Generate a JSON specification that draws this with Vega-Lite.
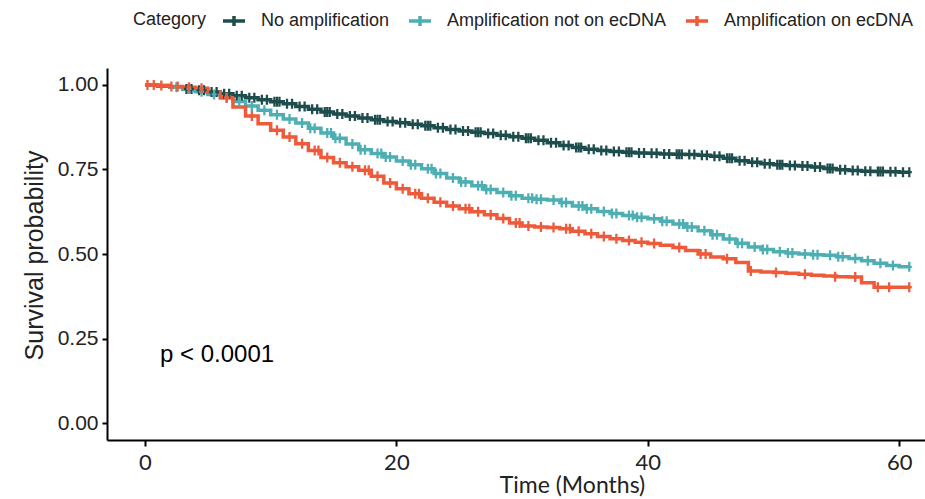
{
  "$schema": "https://vega.github.io/schema/vega-lite/v6.json",
  "width": 818,
  "height": 372,
  "autosize": {"type": "none"},
  "padding": {"left": 107, "top": 68, "right": 0, "bottom": 59},
  "background": "white",
  "config": {"view": {"stroke": null}, "font": "Liberation Sans"},
  "datasets": {
    "curve": [
      {"c":"N","t":0,"s":1.000},{"c":"N","t":1,"s":0.997},{"c":"N","t":2,"s":0.993},{"c":"N","t":3,"s":0.988},{"c":"N","t":4,"s":0.984},{"c":"N","t":5,"s":0.979},{"c":"N","t":6,"s":0.974},{"c":"N","t":7,"s":0.968},{"c":"N","t":8,"s":0.962},{"c":"N","t":9,"s":0.956},{"c":"N","t":10,"s":0.950},{"c":"N","t":11,"s":0.944},{"c":"N","t":12,"s":0.936},{"c":"N","t":13,"s":0.928},{"c":"N","t":14,"s":0.920},{"c":"N","t":15,"s":0.914},{"c":"N","t":16,"s":0.908},{"c":"N","t":17,"s":0.902},{"c":"N","t":18,"s":0.897},{"c":"N","t":19,"s":0.892},{"c":"N","t":20,"s":0.888},{"c":"N","t":21,"s":0.884},{"c":"N","t":22,"s":0.879},{"c":"N","t":23,"s":0.873},{"c":"N","t":24,"s":0.868},{"c":"N","t":25,"s":0.864},{"c":"N","t":26,"s":0.860},{"c":"N","t":27,"s":0.856},{"c":"N","t":28,"s":0.851},{"c":"N","t":29,"s":0.847},{"c":"N","t":30,"s":0.842},{"c":"N","t":31,"s":0.836},{"c":"N","t":32,"s":0.829},{"c":"N","t":33,"s":0.821},{"c":"N","t":34,"s":0.815},{"c":"N","t":35,"s":0.810},{"c":"N","t":36,"s":0.806},{"c":"N","t":37,"s":0.803},{"c":"N","t":38,"s":0.801},{"c":"N","t":39,"s":0.799},{"c":"N","t":40,"s":0.798},{"c":"N","t":41,"s":0.796},{"c":"N","t":42,"s":0.795},{"c":"N","t":43,"s":0.794},{"c":"N","t":44,"s":0.792},{"c":"N","t":45,"s":0.789},{"c":"N","t":46,"s":0.783},{"c":"N","t":47,"s":0.776},{"c":"N","t":48,"s":0.771},{"c":"N","t":49,"s":0.767},{"c":"N","t":50,"s":0.764},{"c":"N","t":51,"s":0.762},{"c":"N","t":52,"s":0.760},{"c":"N","t":53,"s":0.757},{"c":"N","t":54,"s":0.753},{"c":"N","t":55,"s":0.749},{"c":"N","t":56,"s":0.747},{"c":"N","t":57,"s":0.745},{"c":"N","t":58,"s":0.744},{"c":"N","t":59,"s":0.743},{"c":"N","t":60,"s":0.742},{"c":"N","t":60.8,"s":0.742},
      {"c":"A","t":0,"s":1.000},{"c":"A","t":1,"s":0.998},{"c":"A","t":2,"s":0.993},{"c":"A","t":3,"s":0.988},{"c":"A","t":4,"s":0.980},{"c":"A","t":5,"s":0.972},{"c":"A","t":6,"s":0.962},{"c":"A","t":7,"s":0.951},{"c":"A","t":8,"s":0.938},{"c":"A","t":9,"s":0.925},{"c":"A","t":10,"s":0.912},{"c":"A","t":11,"s":0.899},{"c":"A","t":12,"s":0.887},{"c":"A","t":13,"s":0.872},{"c":"A","t":14,"s":0.858},{"c":"A","t":15,"s":0.842},{"c":"A","t":16,"s":0.825},{"c":"A","t":17,"s":0.808},{"c":"A","t":18,"s":0.797},{"c":"A","t":19,"s":0.787},{"c":"A","t":20,"s":0.775},{"c":"A","t":21,"s":0.764},{"c":"A","t":22,"s":0.752},{"c":"A","t":23,"s":0.738},{"c":"A","t":24,"s":0.725},{"c":"A","t":25,"s":0.713},{"c":"A","t":26,"s":0.702},{"c":"A","t":27,"s":0.691},{"c":"A","t":28,"s":0.682},{"c":"A","t":29,"s":0.672},{"c":"A","t":30,"s":0.665},{"c":"A","t":31,"s":0.662},{"c":"A","t":32,"s":0.660},{"c":"A","t":33,"s":0.652},{"c":"A","t":34,"s":0.642},{"c":"A","t":35,"s":0.634},{"c":"A","t":36,"s":0.626},{"c":"A","t":37,"s":0.620},{"c":"A","t":38,"s":0.614},{"c":"A","t":39,"s":0.609},{"c":"A","t":40,"s":0.604},{"c":"A","t":41,"s":0.597},{"c":"A","t":42,"s":0.589},{"c":"A","t":43,"s":0.580},{"c":"A","t":44,"s":0.569},{"c":"A","t":45,"s":0.557},{"c":"A","t":46,"s":0.544},{"c":"A","t":47,"s":0.532},{"c":"A","t":48,"s":0.521},{"c":"A","t":49,"s":0.513},{"c":"A","t":50,"s":0.507},{"c":"A","t":51,"s":0.503},{"c":"A","t":52,"s":0.500},{"c":"A","t":53,"s":0.498},{"c":"A","t":54,"s":0.496},{"c":"A","t":55,"s":0.492},{"c":"A","t":56,"s":0.487},{"c":"A","t":57,"s":0.480},{"c":"A","t":58,"s":0.473},{"c":"A","t":59,"s":0.466},{"c":"A","t":60,"s":0.462},{"c":"A","t":60.8,"s":0.462},
      {"c":"E","t":0,"s":1.000},{"c":"E","t":1,"s":0.998},{"c":"E","t":2,"s":0.995},{"c":"E","t":3,"s":0.993},{"c":"E","t":4,"s":0.990},{"c":"E","t":5,"s":0.978},{"c":"E","t":6,"s":0.962},{"c":"E","t":7,"s":0.935},{"c":"E","t":8,"s":0.908},{"c":"E","t":9,"s":0.885},{"c":"E","t":10,"s":0.866},{"c":"E","t":11,"s":0.846},{"c":"E","t":12,"s":0.826},{"c":"E","t":13,"s":0.806},{"c":"E","t":14,"s":0.785},{"c":"E","t":15,"s":0.770},{"c":"E","t":16,"s":0.758},{"c":"E","t":17,"s":0.748},{"c":"E","t":18,"s":0.730},{"c":"E","t":19,"s":0.710},{"c":"E","t":20,"s":0.693},{"c":"E","t":21,"s":0.678},{"c":"E","t":22,"s":0.665},{"c":"E","t":23,"s":0.653},{"c":"E","t":24,"s":0.642},{"c":"E","t":25,"s":0.634},{"c":"E","t":26,"s":0.625},{"c":"E","t":27,"s":0.616},{"c":"E","t":28,"s":0.605},{"c":"E","t":29,"s":0.592},{"c":"E","t":30,"s":0.583},{"c":"E","t":31,"s":0.580},{"c":"E","t":32,"s":0.578},{"c":"E","t":33,"s":0.575},{"c":"E","t":34,"s":0.567},{"c":"E","t":35,"s":0.560},{"c":"E","t":36,"s":0.552},{"c":"E","t":37,"s":0.545},{"c":"E","t":38,"s":0.540},{"c":"E","t":39,"s":0.535},{"c":"E","t":40,"s":0.531},{"c":"E","t":41,"s":0.526},{"c":"E","t":42,"s":0.519},{"c":"E","t":43,"s":0.510},{"c":"E","t":44,"s":0.500},{"c":"E","t":45,"s":0.491},{"c":"E","t":46,"s":0.486},{"c":"E","t":47,"s":0.475},{"c":"E","t":48,"s":0.450},{"c":"E","t":49,"s":0.447},{"c":"E","t":50,"s":0.445},{"c":"E","t":51,"s":0.443},{"c":"E","t":52,"s":0.440},{"c":"E","t":53,"s":0.437},{"c":"E","t":54,"s":0.435},{"c":"E","t":55,"s":0.433},{"c":"E","t":56,"s":0.432},{"c":"E","t":57,"s":0.415},{"c":"E","t":58,"s":0.402},{"c":"E","t":59,"s":0.402},{"c":"E","t":60,"s":0.402},{"c":"E","t":60.8,"s":0.402}
    ],
    "censor": [
      {"c":"N","t":3.3,"s":0.988},{"c":"N","t":3.7,"s":0.988},{"c":"N","t":4.3,"s":0.984},{"c":"N","t":4.7,"s":0.984},{"c":"N","t":5.3,"s":0.979},{"c":"N","t":5.7,"s":0.979},{"c":"N","t":6.3,"s":0.974},{"c":"N","t":6.7,"s":0.974},{"c":"N","t":7.3,"s":0.968},{"c":"N","t":7.7,"s":0.968},{"c":"N","t":8.3,"s":0.962},{"c":"N","t":8.7,"s":0.962},{"c":"N","t":9.3,"s":0.956},{"c":"N","t":9.7,"s":0.956},{"c":"N","t":10.3,"s":0.950},{"c":"N","t":10.7,"s":0.950},{"c":"N","t":11.3,"s":0.944},{"c":"N","t":11.7,"s":0.944},{"c":"N","t":12.3,"s":0.936},{"c":"N","t":12.7,"s":0.936},{"c":"N","t":13.3,"s":0.928},{"c":"N","t":13.7,"s":0.928},{"c":"N","t":14.3,"s":0.920},{"c":"N","t":14.7,"s":0.920},{"c":"N","t":15.3,"s":0.914},{"c":"N","t":15.7,"s":0.914},{"c":"N","t":16.3,"s":0.908},{"c":"N","t":16.7,"s":0.908},{"c":"N","t":17.3,"s":0.902},{"c":"N","t":17.7,"s":0.902},{"c":"N","t":18.3,"s":0.897},{"c":"N","t":18.7,"s":0.897},{"c":"N","t":19.3,"s":0.892},{"c":"N","t":19.7,"s":0.892},{"c":"N","t":20.3,"s":0.888},{"c":"N","t":20.7,"s":0.888},{"c":"N","t":21.3,"s":0.884},{"c":"N","t":21.7,"s":0.884},{"c":"N","t":22.3,"s":0.879},{"c":"N","t":22.7,"s":0.879},{"c":"N","t":23.3,"s":0.873},{"c":"N","t":23.7,"s":0.873},{"c":"N","t":24.3,"s":0.868},{"c":"N","t":24.7,"s":0.868},{"c":"N","t":25.3,"s":0.864},{"c":"N","t":25.7,"s":0.864},{"c":"N","t":26.3,"s":0.860},{"c":"N","t":26.7,"s":0.860},{"c":"N","t":27.3,"s":0.856},{"c":"N","t":27.7,"s":0.856},{"c":"N","t":28.3,"s":0.851},{"c":"N","t":28.7,"s":0.851},{"c":"N","t":29.3,"s":0.847},{"c":"N","t":29.7,"s":0.847},{"c":"N","t":30.3,"s":0.842},{"c":"N","t":30.7,"s":0.842},{"c":"N","t":31.3,"s":0.836},{"c":"N","t":31.7,"s":0.836},{"c":"N","t":32.3,"s":0.829},{"c":"N","t":32.7,"s":0.829},{"c":"N","t":33.3,"s":0.821},{"c":"N","t":33.7,"s":0.821},{"c":"N","t":34.3,"s":0.815},{"c":"N","t":34.7,"s":0.815},{"c":"N","t":35.3,"s":0.810},{"c":"N","t":35.7,"s":0.810},{"c":"N","t":36.3,"s":0.806},{"c":"N","t":36.7,"s":0.806},{"c":"N","t":37.3,"s":0.803},{"c":"N","t":37.7,"s":0.803},{"c":"N","t":38.3,"s":0.801},{"c":"N","t":38.7,"s":0.801},{"c":"N","t":39.3,"s":0.799},{"c":"N","t":39.7,"s":0.799},{"c":"N","t":40.3,"s":0.798},{"c":"N","t":40.7,"s":0.798},{"c":"N","t":41.3,"s":0.796},{"c":"N","t":41.7,"s":0.796},{"c":"N","t":42.3,"s":0.795},{"c":"N","t":42.7,"s":0.795},{"c":"N","t":43.3,"s":0.794},{"c":"N","t":43.7,"s":0.794},{"c":"N","t":44.3,"s":0.792},{"c":"N","t":44.7,"s":0.792},{"c":"N","t":45.3,"s":0.789},{"c":"N","t":45.7,"s":0.789},{"c":"N","t":46.3,"s":0.783},{"c":"N","t":46.7,"s":0.783},{"c":"N","t":47.3,"s":0.776},{"c":"N","t":47.7,"s":0.776},{"c":"N","t":48.3,"s":0.771},{"c":"N","t":48.7,"s":0.771},{"c":"N","t":49.3,"s":0.767},{"c":"N","t":49.7,"s":0.767},{"c":"N","t":50.3,"s":0.764},{"c":"N","t":50.7,"s":0.764},{"c":"N","t":51.3,"s":0.762},{"c":"N","t":51.7,"s":0.762},{"c":"N","t":52.3,"s":0.760},{"c":"N","t":52.7,"s":0.760},{"c":"N","t":53.3,"s":0.757},{"c":"N","t":53.7,"s":0.757},{"c":"N","t":54.3,"s":0.753},{"c":"N","t":54.7,"s":0.753},{"c":"N","t":55.3,"s":0.749},{"c":"N","t":55.7,"s":0.749},{"c":"N","t":56.3,"s":0.747},{"c":"N","t":56.7,"s":0.747},{"c":"N","t":57.3,"s":0.745},{"c":"N","t":57.7,"s":0.745},{"c":"N","t":58.3,"s":0.744},{"c":"N","t":58.7,"s":0.744},{"c":"N","t":59.3,"s":0.743},{"c":"N","t":59.7,"s":0.743},{"c":"N","t":60.3,"s":0.742},{"c":"N","t":60.8,"s":0.742},
      {"c":"N","t":10.5,"s":0.950},{"c":"N","t":14.5,"s":0.920},{"c":"N","t":18.5,"s":0.897},{"c":"N","t":22.5,"s":0.879},{"c":"N","t":26.5,"s":0.860},{"c":"N","t":30.5,"s":0.842},{"c":"N","t":34.5,"s":0.815},{"c":"N","t":38.5,"s":0.801},{"c":"N","t":42.5,"s":0.795},{"c":"N","t":46.5,"s":0.783},{"c":"N","t":50.5,"s":0.764},{"c":"N","t":54.5,"s":0.753},{"c":"N","t":58.5,"s":0.744},
      {"c":"A","t":2.5,"s":0.993},{"c":"A","t":3.5,"s":0.988},{"c":"A","t":4.5,"s":0.980},{"c":"A","t":5.5,"s":0.972},{"c":"A","t":6.5,"s":0.962},{"c":"A","t":7.5,"s":0.951},{"c":"A","t":8.5,"s":0.938},{"c":"A","t":9.5,"s":0.925},{"c":"A","t":10.5,"s":0.912},{"c":"A","t":11.5,"s":0.899},{"c":"A","t":12.5,"s":0.887},{"c":"A","t":13.5,"s":0.872},{"c":"A","t":14.5,"s":0.858},{"c":"A","t":15.5,"s":0.842},{"c":"A","t":16.5,"s":0.825},{"c":"A","t":17.5,"s":0.808},{"c":"A","t":18.5,"s":0.797},{"c":"A","t":19.5,"s":0.787},{"c":"A","t":20.5,"s":0.775},{"c":"A","t":21.5,"s":0.764},{"c":"A","t":22.5,"s":0.752},{"c":"A","t":23.5,"s":0.738},{"c":"A","t":24.5,"s":0.725},{"c":"A","t":25.5,"s":0.713},{"c":"A","t":26.5,"s":0.702},{"c":"A","t":27.5,"s":0.691},{"c":"A","t":28.5,"s":0.682},{"c":"A","t":29.5,"s":0.672},{"c":"A","t":30.5,"s":0.665},{"c":"A","t":31.5,"s":0.662},{"c":"A","t":32.5,"s":0.660},{"c":"A","t":33.5,"s":0.652},{"c":"A","t":34.5,"s":0.642},{"c":"A","t":35.5,"s":0.634},{"c":"A","t":36.5,"s":0.626},{"c":"A","t":37.5,"s":0.620},{"c":"A","t":38.5,"s":0.614},{"c":"A","t":39.5,"s":0.609},{"c":"A","t":40.5,"s":0.604},{"c":"A","t":41.5,"s":0.597},{"c":"A","t":42.5,"s":0.589},{"c":"A","t":43.5,"s":0.580},{"c":"A","t":44.5,"s":0.569},{"c":"A","t":45.5,"s":0.557},{"c":"A","t":46.5,"s":0.544},{"c":"A","t":47.5,"s":0.532},{"c":"A","t":48.5,"s":0.521},{"c":"A","t":49.5,"s":0.513},{"c":"A","t":50.5,"s":0.507},{"c":"A","t":51.5,"s":0.503},{"c":"A","t":52.5,"s":0.500},{"c":"A","t":53.5,"s":0.498},{"c":"A","t":54.5,"s":0.496},{"c":"A","t":55.5,"s":0.492},{"c":"A","t":56.5,"s":0.487},{"c":"A","t":57.5,"s":0.480},{"c":"A","t":58.5,"s":0.473},{"c":"A","t":59.5,"s":0.466},{"c":"A","t":60.8,"s":0.462},
      {"c":"A","t":13.15,"s":0.872},{"c":"A","t":15.15,"s":0.842},{"c":"A","t":17.15,"s":0.808},{"c":"A","t":19.15,"s":0.787},{"c":"A","t":21.15,"s":0.764},{"c":"A","t":23.15,"s":0.738},{"c":"A","t":25.15,"s":0.713},{"c":"A","t":27.15,"s":0.691},{"c":"A","t":29.15,"s":0.672},{"c":"A","t":31.15,"s":0.662},{"c":"A","t":33.15,"s":0.652},{"c":"A","t":35.15,"s":0.634},{"c":"A","t":37.15,"s":0.620},{"c":"A","t":39.15,"s":0.609},{"c":"A","t":41.15,"s":0.597},{"c":"A","t":43.15,"s":0.580},{"c":"A","t":45.15,"s":0.557},{"c":"A","t":47.15,"s":0.532},{"c":"A","t":49.15,"s":0.513},{"c":"A","t":51.15,"s":0.503},{"c":"A","t":53.15,"s":0.498},{"c":"A","t":55.15,"s":0.492},
      {"c":"A","t":14.8,"s":0.858},{"c":"A","t":18.8,"s":0.797},{"c":"A","t":22.8,"s":0.752},{"c":"A","t":26.8,"s":0.702},{"c":"A","t":30.8,"s":0.665},{"c":"A","t":34.8,"s":0.642},{"c":"A","t":38.8,"s":0.614},{"c":"A","t":42.8,"s":0.589},
      {"c":"E","t":0.2,"s":1.000},{"c":"E","t":0.7,"s":1.000},{"c":"E","t":1.3,"s":0.998},{"c":"E","t":2.1,"s":0.995},{"c":"E","t":2.6,"s":0.995},{"c":"E","t":3.5,"s":0.993},{"c":"E","t":4.5,"s":0.990},{"c":"E","t":6.5,"s":0.962},{"c":"E","t":8.5,"s":0.908},{"c":"E","t":10.5,"s":0.866},{"c":"E","t":11.5,"s":0.846},{"c":"E","t":12.5,"s":0.826},{"c":"E","t":13.5,"s":0.806},{"c":"E","t":14.5,"s":0.785},{"c":"E","t":15.5,"s":0.770},{"c":"E","t":16.5,"s":0.758},{"c":"E","t":17.5,"s":0.748},{"c":"E","t":18.5,"s":0.730},{"c":"E","t":19.5,"s":0.710},{"c":"E","t":20.5,"s":0.693},{"c":"E","t":21.5,"s":0.678},{"c":"E","t":22.5,"s":0.665},{"c":"E","t":23.5,"s":0.653},{"c":"E","t":24.5,"s":0.642},{"c":"E","t":25.5,"s":0.634},{"c":"E","t":26.5,"s":0.625},{"c":"E","t":27.5,"s":0.616},{"c":"E","t":28.5,"s":0.605},{"c":"E","t":29.5,"s":0.592},{"c":"E","t":30.5,"s":0.583},{"c":"E","t":31.5,"s":0.580},{"c":"E","t":32.5,"s":0.578},{"c":"E","t":33.5,"s":0.575},{"c":"E","t":34.5,"s":0.567},{"c":"E","t":35.5,"s":0.560},{"c":"E","t":36.5,"s":0.552},{"c":"E","t":37.5,"s":0.545},{"c":"E","t":38.5,"s":0.540},{"c":"E","t":39.5,"s":0.535},{"c":"E","t":40.5,"s":0.531},{"c":"E","t":42.5,"s":0.519},{"c":"E","t":44.2,"s":0.500},{"c":"E","t":44.6,"s":0.500},{"c":"E","t":46.3,"s":0.486},{"c":"E","t":48.2,"s":0.450},{"c":"E","t":50.2,"s":0.445},{"c":"E","t":52.5,"s":0.440},{"c":"E","t":54.9,"s":0.433},{"c":"E","t":56.5,"s":0.432},{"c":"E","t":58.3,"s":0.402},{"c":"E","t":59.2,"s":0.402},{"c":"E","t":60.8,"s":0.402},
      {"c":"E","t":13.8,"s":0.806},{"c":"E","t":17.8,"s":0.748},{"c":"E","t":21.8,"s":0.678},{"c":"E","t":25.8,"s":0.634},{"c":"E","t":29.8,"s":0.592},{"c":"E","t":33.8,"s":0.575}
    ]
  },
  "encoding": {
    "x": {
      "field": "t", "type": "quantitative",
      "scale": {"domain": [-3.02, 62.05], "nice": false, "zero": false},
      "axis": {
        "values": [0, 20, 40, 60], "grid": false,
        "domainColor": "black", "domainWidth": 2,
        "tickColor": "black", "tickWidth": 2, "tickSize": 6,
        "labelFont": "Lato", "labelFontSize": 22, "labelColor": "#222222", "labelPadding": 6,
        "title": "Time (Months)", "titleFont": "Lato", "titleFontSize": 23, "titleFontWeight": "normal", "titleColor": "#222222",
        "titleX": 465, "titleY": 52, "titleBaseline": "alphabetic", "titleAlign": "center"
      }
    },
    "y": {
      "field": "s", "type": "quantitative",
      "scale": {"domain": [-0.05, 1.05], "nice": false, "zero": false},
      "axis": {
        "values": [0, 0.25, 0.5, 0.75, 1], "format": ".2f", "grid": false,
        "domainColor": "black", "domainWidth": 2,
        "tickColor": "black", "tickWidth": 2, "tickSize": 5,
        "labelFont": "Liberation Sans", "labelFontSize": 21, "labelColor": "#222222", "labelPadding": 4,
        "title": "Survival probability", "titleFont": "Liberation Sans", "titleFontSize": 25, "titleFontWeight": "normal", "titleColor": "#222222",
        "titleX": -65, "titleY": 187, "titleAngle": -90, "titleBaseline": "alphabetic", "titleAlign": "center"
      }
    },
    "color": {
      "field": "c", "type": "nominal",
      "scale": {"domain": ["N", "A", "E"], "range": ["#1E4D4D", "#4DAFB3", "#EE5A3A"]},
      "legend": {
        "orient": "none", "legendX": 26, "legendY": -60, "direction": "horizontal",
        "title": "Category", "titleOrient": "left", "titleFont": "Liberation Sans", "titleFontSize": 18, "titleFontWeight": "normal", "titleColor": "#222222", "titlePadding": 14,
        "labelFont": "Liberation Sans", "labelFontSize": 18, "labelColor": "#222222", "labelLimit": 400, "labelOffset": 14,
        "labelExpr": "datum.label == 'N' ? 'No amplification' : datum.label == 'A' ? 'Amplification not on ecDNA' : 'Amplification on ecDNA'",
        "symbolType": "M-1,0H1M0,-0.45V0.45", "symbolSize": 484, "symbolStrokeWidth": 3.5, "symbolOpacity": 1,
        "columnPadding": 12
      }
    }
  },
  "layer": [
    {"data": {"name": "curve"}, "mark": {"type": "line", "interpolate": "step-after", "strokeWidth": 3.5}},
    {"data": {"name": "censor"}, "mark": {"type": "point", "shape": "M-0.5,0H0.5M0,-1V1", "filled": false, "strokeWidth": 2.3, "size": 100, "opacity": 1}},
    {
      "data": {"values": [{"t": 1.2, "s": 0.2, "label": "p < 0.0001"}]},
      "mark": {"type": "text", "align": "left", "baseline": "middle", "fontSize": 24, "font": "Liberation Sans", "color": "black"},
      "encoding": {"text": {"field": "label", "type": "nominal"}, "color": {"value": "black"}}
    }
  ]
}
